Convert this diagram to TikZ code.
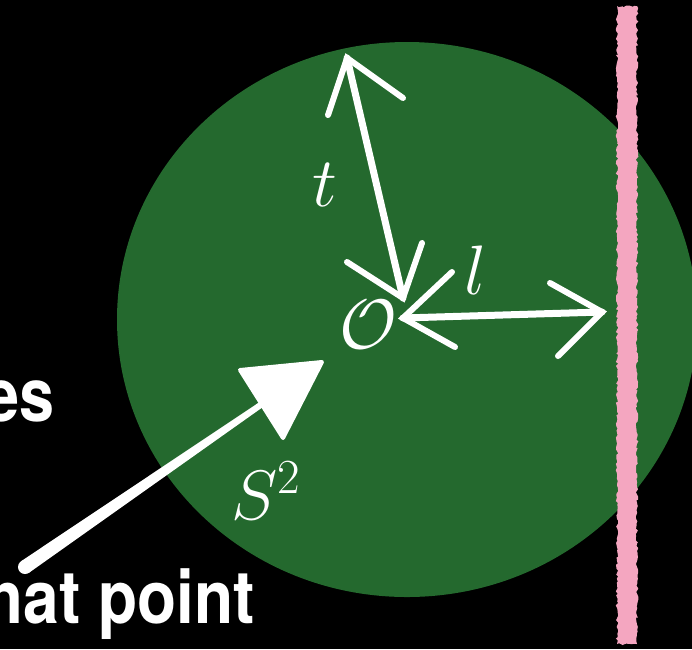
\RequirePackage{fix-cm}
\documentclass[tikz,border=0pt]{standalone}
\usepackage{fontspec}
\newfontfamily\heros{TeX Gyre Heros}
\usetikzlibrary{decorations.pathmorphing,calc}
\definecolor{diskgreen}{RGB}{36,105,46}
\definecolor{chalkpink}{RGB}{244,166,192}
\begin{document}
\begin{tikzpicture}[x=1pt,y=-1pt,
  chalk/.style={white, line width=7pt, line cap=round, line join=round},
  chalkhead/.style={white, line width=6pt, line cap=round, line join=miter},
  mathlbl/.style={white, inner sep=0pt, font=\fontsize{70}{80}\selectfont},
  slidetext/.style={white, inner sep=0pt, anchor=base east}]
\useasboundingbox (0,0) rectangle (692,649);
\fill[black] (0,0) rectangle (692,649);
% disk
\fill[diskgreen] (407,319.5) ellipse [x radius=290, y radius=277.5];
% pink boundary line
\fill[chalkpink, decorate, decoration={random steps, segment length=2.5pt, amplitude=1.3pt}]
  (617,6) rectangle (637,644);
% slide text
\node[slidetext, font=\heros\bfseries\fontsize{63}{70}\selectfont] (es) at (55,421) {\scalebox{1}[1.18]{es}};
\node[slidetext, font=\heros\bfseries\fontsize{64}{70}\selectfont] (hp) at (255,623) {\scalebox{1}[1.15]{hat point}};
% labels
\node[mathlbl, anchor=base] (t) at (325,206) {$t$};
\node[mathlbl, anchor=base] (l) at (475,294) {$l$};
\node[mathlbl, anchor=base] (O) at (368,348) {$\mathcal{O}$};
\node[mathlbl, anchor=base west] (S) at (231,519) {$S^2$};
% coordinates for t arrow
\coordinate (ttop) at (347,58);
\coordinate (tbot) at (403,298);
\coordinate (ta1) at (328,115);
\coordinate (ta2) at (403,98);
\coordinate (tb1) at (347,262);
\coordinate (tb2) at (422,243);
\draw[chalk] (ttop) -- (tbot);
\draw[chalkhead] (ta1) -- (ttop) -- (ta2);
\draw[chalkhead] (tb1) -- (tbot) -- (tb2);
% l arrow
\coordinate (lleft) at (403,318);
\coordinate (lright) at (602,312);
\coordinate (la1) at (452,272);
\coordinate (la2) at (455,347);
\coordinate (lb1) at (550,283);
\coordinate (lb2) at (558,356);
\draw[chalk] (lleft) -- (lright);
\draw[chalkhead] (la1) -- (lleft) -- (la2);
\draw[chalkhead] (lb1) -- (lright) -- (lb2);
% big arrow
\coordinate (bigtail) at (25,567);
\coordinate (bighead) at (262,404);
\coordinate (h1) at (240,370);
\coordinate (h2) at (322,362);
\coordinate (h3) at (283,438);
\fill[white] ($(bigtail)+(3.97,5.77)$) -- ($(bighead)+(1.7,2.47)$) -- ($(bighead)+(-1.7,-2.47)$) -- ($(bigtail)+(-3.97,-5.77)$) -- cycle;
\fill[white] (bigtail) circle (7);
\filldraw[white, line width=4pt, line join=round] (h1) -- (h2) -- (h3) -- cycle;
\end{tikzpicture}
\end{document}
